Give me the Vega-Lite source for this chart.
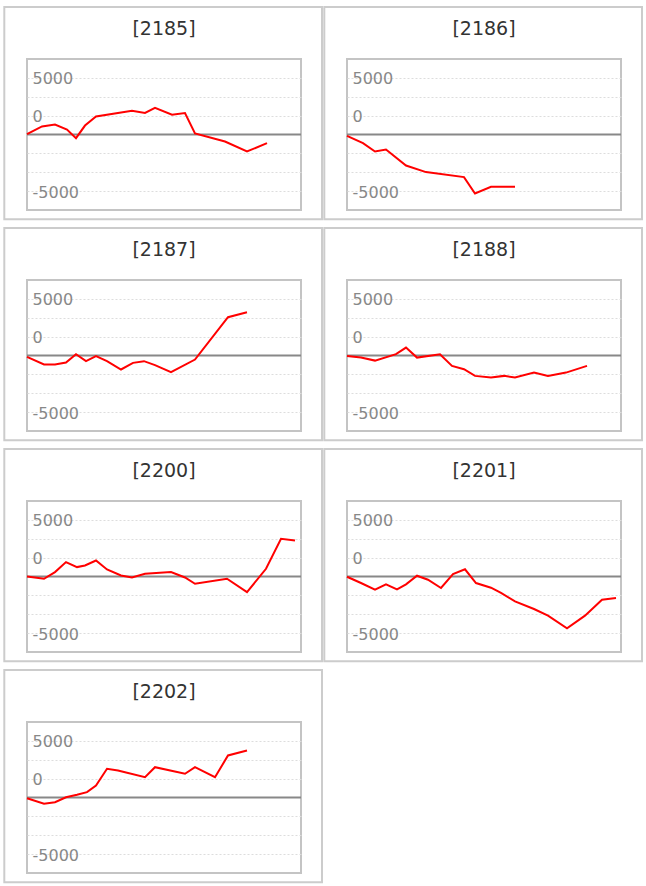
{
  "$schema": "https://vega.github.io/schema/vega-lite/v6.json",
  "background": "white",
  "padding": {"left": 2, "top": 4, "right": 0, "bottom": 0},
  "bounds": "flush",
  "data": {
    "values": [
      {"id": "2185", "t": 0, "v": 30}, {"id": "2185", "t": 15, "v": 710}, {"id": "2185", "t": 28, "v": 880},
      {"id": "2185", "t": 40, "v": 440}, {"id": "2185", "t": 49, "v": -320}, {"id": "2185", "t": 58, "v": 790},
      {"id": "2185", "t": 69, "v": 1590}, {"id": "2185", "t": 105, "v": 2090}, {"id": "2185", "t": 118, "v": 1910},
      {"id": "2185", "t": 128, "v": 2350}, {"id": "2185", "t": 145, "v": 1740}, {"id": "2185", "t": 158, "v": 1890},
      {"id": "2185", "t": 168, "v": 90}, {"id": "2185", "t": 198, "v": -620}, {"id": "2185", "t": 220, "v": -1500},
      {"id": "2185", "t": 240, "v": -760},

      {"id": "2186", "t": 0, "v": -115}, {"id": "2186", "t": 16, "v": -760}, {"id": "2186", "t": 28, "v": -1500},
      {"id": "2186", "t": 39, "v": -1325}, {"id": "2186", "t": 59, "v": -2740}, {"id": "2186", "t": 79, "v": -3320},
      {"id": "2186", "t": 117, "v": -3760}, {"id": "2186", "t": 128, "v": -5210}, {"id": "2186", "t": 144, "v": -4620},
      {"id": "2186", "t": 168, "v": -4620},

      {"id": "2187", "t": 0, "v": -120}, {"id": "2187", "t": 17, "v": -795}, {"id": "2187", "t": 28, "v": -795},
      {"id": "2187", "t": 39, "v": -620}, {"id": "2187", "t": 49, "v": 115}, {"id": "2187", "t": 59, "v": -500},
      {"id": "2187", "t": 69, "v": -60}, {"id": "2187", "t": 80, "v": -500}, {"id": "2187", "t": 94, "v": -1235},
      {"id": "2187", "t": 106, "v": -650}, {"id": "2187", "t": 117, "v": -500}, {"id": "2187", "t": 128, "v": -855},
      {"id": "2187", "t": 144, "v": -1475}, {"id": "2187", "t": 168, "v": -355}, {"id": "2187", "t": 201, "v": 3380},
      {"id": "2187", "t": 220, "v": 3820},

      {"id": "2188", "t": 0, "v": -35}, {"id": "2188", "t": 14, "v": -185}, {"id": "2188", "t": 28, "v": -450},
      {"id": "2188", "t": 49, "v": 115}, {"id": "2188", "t": 59, "v": 700}, {"id": "2188", "t": 70, "v": -185},
      {"id": "2188", "t": 93, "v": 115}, {"id": "2188", "t": 105, "v": -920}, {"id": "2188", "t": 117, "v": -1210},
      {"id": "2188", "t": 128, "v": -1800}, {"id": "2188", "t": 144, "v": -1950}, {"id": "2188", "t": 157, "v": -1800},
      {"id": "2188", "t": 168, "v": -1950}, {"id": "2188", "t": 187, "v": -1510}, {"id": "2188", "t": 201, "v": -1800},
      {"id": "2188", "t": 219, "v": -1510}, {"id": "2188", "t": 240, "v": -920},

      {"id": "2200", "t": 0, "v": 0}, {"id": "2200", "t": 17, "v": -200}, {"id": "2200", "t": 28, "v": 390},
      {"id": "2200", "t": 39, "v": 1270}, {"id": "2200", "t": 50, "v": 830}, {"id": "2200", "t": 58, "v": 970},
      {"id": "2200", "t": 69, "v": 1410}, {"id": "2200", "t": 80, "v": 620}, {"id": "2200", "t": 94, "v": 90},
      {"id": "2200", "t": 105, "v": -90}, {"id": "2200", "t": 118, "v": 240}, {"id": "2200", "t": 144, "v": 390},
      {"id": "2200", "t": 158, "v": -90}, {"id": "2200", "t": 168, "v": -645}, {"id": "2200", "t": 200, "v": -200},
      {"id": "2200", "t": 220, "v": -1380}, {"id": "2200", "t": 239, "v": 680}, {"id": "2200", "t": 254, "v": 3330},
      {"id": "2200", "t": 268, "v": 3180},

      {"id": "2201", "t": 0, "v": -20}, {"id": "2201", "t": 14, "v": -575}, {"id": "2201", "t": 28, "v": -1165},
      {"id": "2201", "t": 39, "v": -690}, {"id": "2201", "t": 50, "v": -1130}, {"id": "2201", "t": 59, "v": -690},
      {"id": "2201", "t": 70, "v": 70}, {"id": "2201", "t": 81, "v": -285}, {"id": "2201", "t": 94, "v": -1015},
      {"id": "2201", "t": 106, "v": 220}, {"id": "2201", "t": 118, "v": 635}, {"id": "2201", "t": 129, "v": -575},
      {"id": "2201", "t": 144, "v": -990}, {"id": "2201", "t": 154, "v": -1455}, {"id": "2201", "t": 168, "v": -2190},
      {"id": "2201", "t": 187, "v": -2870}, {"id": "2201", "t": 201, "v": -3460}, {"id": "2201", "t": 220, "v": -4575},
      {"id": "2201", "t": 238, "v": -3460}, {"id": "2201", "t": 255, "v": -2050}, {"id": "2201", "t": 269, "v": -1900},

      {"id": "2202", "t": 0, "v": -60}, {"id": "2202", "t": 17, "v": -555}, {"id": "2202", "t": 28, "v": -415},
      {"id": "2202", "t": 39, "v": 25}, {"id": "2202", "t": 50, "v": 240}, {"id": "2202", "t": 60, "v": 470},
      {"id": "2202", "t": 69, "v": 1060}, {"id": "2202", "t": 80, "v": 2535}, {"id": "2202", "t": 91, "v": 2385},
      {"id": "2202", "t": 118, "v": 1790}, {"id": "2202", "t": 128, "v": 2675}, {"id": "2202", "t": 158, "v": 2095},
      {"id": "2202", "t": 168, "v": 2675}, {"id": "2202", "t": 188, "v": 1790}, {"id": "2202", "t": 201, "v": 3710},
      {"id": "2202", "t": 220, "v": 4150}
    ]
  },
  "facet": {
    "field": "id",
    "type": "nominal",
    "header": {
      "title": null,
      "labelExpr": "'[' + datum.value + ']'",
      "labelFont": "DejaVu Sans",
      "labelFontSize": 19,
      "labelColor": "#333333",
      "labelPadding": -33
    }
  },
  "columns": 2,
  "spacing": {"row": 70, "column": 46},
  "resolve": {"axis": {"y": "independent"}},
  "spec": {
    "width": 274,
    "height": 151,
    "layer": [
      {
        "transform": [{"filter": "datum.t === 0"}],
        "mark": {"type": "rule", "color": "#888888", "strokeWidth": 2},
        "encoding": {
          "x": {"datum": 0, "type": "quantitative", "axis": null},
          "x2": {"datum": 274},
          "y": {
            "datum": 0,
            "type": "quantitative",
            "axis": {
              "title": null,
              "values": [-5000, -3333.33, -1666.67, 1666.67, 3333.33, 5000],
              "labelExpr": "datum.value == 5000 ? '5000' : datum.value == -5000 ? '-5000' : datum.value == 1666.67 ? '0' : ''",
              "labelOverlap": false,
              "ticks": false,
              "domain": false,
              "grid": true,
              "gridColor": "#dddddd",
              "gridDash": [2, 2],
              "gridWidth": 1,
              "labelAlign": "left",
              "labelBaseline": "middle",
              "labelPadding": -5,
              "labelOffset": 1,
              "labelFont": "DejaVu Sans",
              "labelFontSize": 16,
              "labelColor": "#888888"
            }
          }
        }
      },
      {
        "transform": [{"filter": "datum.t === 0"}],
        "mark": {"type": "rect", "filled": false, "color": "#cccccc", "strokeWidth": 2},
        "encoding": {
          "x": {"datum": -22.7, "type": "quantitative", "axis": null},
          "x2": {"datum": 295},
          "y": {
            "datum": -7490,
            "type": "quantitative",
            "axis": {
              "title": null,
              "values": [-5000, -3333.33, -1666.67, 1666.67, 3333.33, 5000],
              "labelExpr": "datum.value == 5000 ? '5000' : datum.value == -5000 ? '-5000' : datum.value == 1666.67 ? '0' : ''",
              "labelOverlap": false,
              "ticks": false,
              "domain": false,
              "grid": true,
              "gridColor": "#dddddd",
              "gridDash": [2, 2],
              "gridWidth": 1,
              "labelAlign": "left",
              "labelBaseline": "middle",
              "labelPadding": -5,
              "labelOffset": 1,
              "labelFont": "DejaVu Sans",
              "labelFontSize": 16,
              "labelColor": "#888888"
            }
          },
          "y2": {"datum": 11260}
        }
      },
      {
        "mark": {"type": "line", "color": "#ff0000", "strokeWidth": 2},
        "encoding": {
          "x": {"field": "t", "type": "quantitative", "axis": null,
                "scale": {"domain": [0, 274], "nice": false, "zero": false}},
          "y": {
            "field": "v",
            "type": "quantitative",
            "scale": {"domain": [-6666.67, 6666.67], "nice": false, "zero": false},
            "axis": {
              "title": null,
              "values": [-5000, -3333.33, -1666.67, 1666.67, 3333.33, 5000],
              "labelExpr": "datum.value == 5000 ? '5000' : datum.value == -5000 ? '-5000' : datum.value == 1666.67 ? '0' : ''",
              "labelOverlap": false,
              "ticks": false,
              "domain": false,
              "grid": true,
              "gridColor": "#dddddd",
              "gridDash": [2, 2],
              "gridWidth": 1,
              "labelAlign": "left",
              "labelBaseline": "middle",
              "labelPadding": -5,
              "labelOffset": 1,
              "labelFont": "DejaVu Sans",
              "labelFontSize": 16,
              "labelColor": "#888888"
            }
          }
        }
      }
    ]
  },
  "config": {
    "view": {"stroke": "#c4c4c4", "strokeWidth": 2}
  }
}
